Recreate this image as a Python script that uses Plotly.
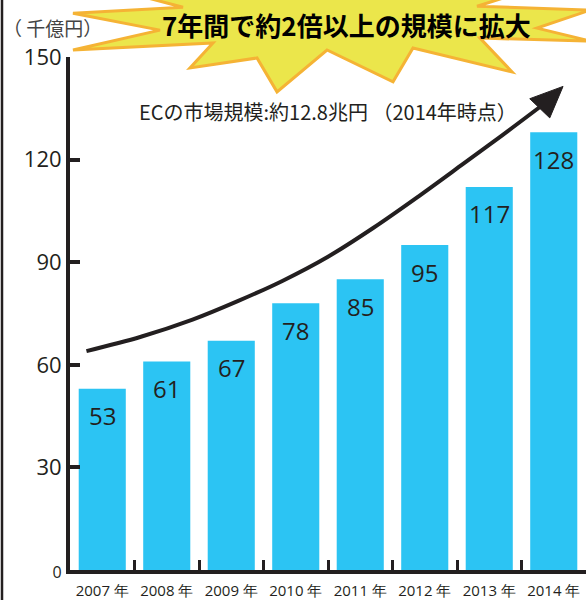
import plotly.graph_objects as go

# ---- data ----
years = ["2007 年", "2008 年", "2009 年", "2010 年", "2011 年", "2012 年", "2013 年", "2014 年"]
bar_heights = [53, 61, 67, 78, 85, 95, 112, 128]          # heights as drawn in the picture
value_labels = ["53", "61", "67", "78", "85", "95", "117", "128"]
y_ticks = [0, 30, 60, 90, 120, 150]

# trend arrow (data units: x = category index, y = 千億円)
trend_x = [-0.245, 0.6, 1.4, 2.1, 2.8, 3.5, 4.2, 4.9, 5.6, 6.2, 6.8]
trend_y = [64.0, 68.2, 73.2, 78.6, 84.6, 91.6, 100.0, 109.2, 118.8, 127.1, 135.6]
head_x = [7.144, 6.628, 6.938, 7.144]
head_y = [141.4, 137.8, 132.2, 141.4]

title_text = "7年間で約2倍以上の規模に拡大"
subtitle_text = "ECの市場規模:約12.8兆円 （2014年時点）"
unit_text = "（ 千億円）"

# starburst outline in page pixels (decoration)
burst_px = [(73, 13), (160, 30), (73, 50), (213, 43), (190, 68), (257, 58), (277, 92),
            (327, 50), (393, 82), (413, 48), (512, 72), (480, 38), (590, 41), (537, 28),
            (590, 10), (477, 6), (560, -20), (430, -10), (320, -60), (245, -4),
            (80, -20), (183, 7)]

INK = "#231f20"
BLUE = "#2cc4f3"
W, H = 586, 600
L, R, T, B = 70, 0, 57, 28
PW, PH = W - L - R, H - T - B


def to_paper(px, py):
    return (px - L) / PW, (H - B - py) / PH


burst_path = "M " + " L ".join(
    f"{to_paper(px, py)[0]:.4f},{to_paper(px, py)[1]:.4f}" for px, py in burst_px) + " Z"

xs = list(range(len(years)))

fig = go.Figure()
fig.add_trace(go.Bar(x=xs, y=bar_heights, width=0.73, marker=dict(color=BLUE, line=dict(width=0)),
                     hoverinfo="skip"))
fig.add_trace(go.Scatter(x=trend_x, y=trend_y, mode="lines",
                         line=dict(color=INK, width=4, shape="spline", smoothing=1.0),
                         hoverinfo="skip"))
fig.add_trace(go.Scatter(x=head_x, y=head_y, mode="lines", fill="toself", fillcolor=INK,
                         line=dict(color=INK, width=1), hoverinfo="skip"))

annotations = []
for i, (h, lab) in enumerate(zip(bar_heights, value_labels)):
    annotations.append(dict(x=i, y=h, xref="x", yref="y", text=lab, showarrow=False,
                            yanchor="middle", yshift=-27,
                            font=dict(family="Open Sans", size=24, color=INK)))

tx, ty = to_paper(346, 24)
annotations.append(dict(x=tx, y=ty, xref="paper", yref="paper", text=f"<b>{title_text}</b>",
                        showarrow=False, xanchor="center", yanchor="middle",
                        font=dict(family="Noto Sans CJK JP", size=26, color="#000000")))
sx, sy = to_paper(328, 112)
annotations.append(dict(x=sx, y=sy, xref="paper", yref="paper", text=subtitle_text,
                        showarrow=False, xanchor="center", yanchor="middle",
                        font=dict(family="Noto Sans CJK JP", size=20, color=INK)))
ux, uy = to_paper(52, 27)
annotations.append(dict(x=ux, y=uy, xref="paper", yref="paper", text=unit_text,
                        showarrow=False, xanchor="center", yanchor="middle",
                        font=dict(family="Noto Sans CJK JP", size=19, color="#444444")))

bx0, _ = to_paper(2, 0)
shapes = [
    dict(type="path", path=burst_path, xref="paper", yref="paper", layer="above",
         fillcolor="#ebe64b", line=dict(color="#f5b335", width=3)),
    dict(type="line", xref="paper", yref="paper", x0=bx0, x1=bx0, y0=-0.1, y1=1.2,
         line=dict(color=INK, width=2.5)),
]

ytext = [f'<span style="font-size:16px">{v}</span>' if v == 0 else str(v) for v in y_ticks]

fig.update_layout(
    width=W, height=H, margin=dict(l=L, r=R, t=T, b=B),
    plot_bgcolor="white", paper_bgcolor="white", showlegend=False,
    annotations=annotations, shapes=shapes,
    xaxis=dict(range=[-0.5, 7.5], tickmode="array", tickvals=xs, ticktext=years, ticks="",
               showline=True, linewidth=4, linecolor=INK, showgrid=False, zeroline=False,
               tickfont=dict(family="Open Sans", size=15, color=INK), ticklabelstandoff=4,
               minor=dict(tickmode="array", tickvals=[i + 0.5 for i in range(len(years) - 1)],
                          ticks="inside", ticklen=10, tickwidth=3, tickcolor=INK, showgrid=False),
               fixedrange=True),
    yaxis=dict(range=[0, 150], tickmode="array", tickvals=y_ticks, ticktext=ytext,
               ticks="inside", ticklen=10, tickwidth=3.5, tickcolor=INK,
               showline=True, linewidth=4, linecolor=INK, showgrid=False, zeroline=False,
               tickfont=dict(family="Open Sans", size=22, color=INK), fixedrange=True),
)

fig.write_html("out.html", config={"displayModeBar": False},
               post_script="document.body.style.margin='0';"
                           "document.documentElement.style.overflow='hidden';")
